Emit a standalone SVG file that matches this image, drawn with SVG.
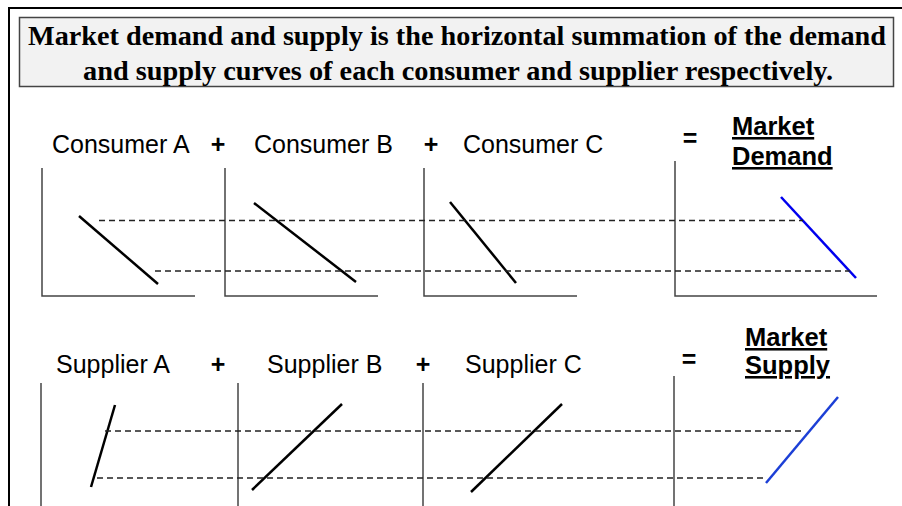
<svg xmlns="http://www.w3.org/2000/svg" width="902" height="506" viewBox="0 0 902 506">
<style>
.title{font-family:"Liberation Serif","Times New Roman",serif;font-weight:bold;font-size:28px;fill:#000}
.lbl{font-family:"Liberation Sans",Arial,sans-serif;font-size:25px;fill:#000}
.op{font-family:"Liberation Sans",Arial,sans-serif;font-size:25px;font-weight:bold;fill:#000}
.mkt{font-family:"Liberation Sans",Arial,sans-serif;font-size:25.5px;font-weight:bold;fill:#000;text-decoration:underline}
.axis{stroke:#444;stroke-width:1.5;fill:none}
.curve{stroke:#000;stroke-width:2.5;fill:none;stroke-linecap:butt}
.mdem{stroke:#0000ee;stroke-width:2.5;fill:none}
.msup{stroke:#1c3fd6;stroke-width:2.5;fill:none}
.dash{stroke:#222;stroke-width:1.3;stroke-dasharray:6 4;fill:none}
</style>
<rect width="902" height="506" fill="#fff"/>
<rect id="frame" x="9" y="8" width="905" height="510" fill="none" stroke="#000" stroke-width="2"/>
<g id="title">
<rect x="19.5" y="17.5" width="874" height="69" fill="#f2f2f2" stroke="#444" stroke-width="1.5"/>
<text class="title" x="28" y="45" textLength="858" lengthAdjust="spacingAndGlyphs">Market demand  and supply is the horizontal summation of the demand</text>
<text class="title" x="83" y="80" textLength="750" lengthAdjust="spacingAndGlyphs">and supply curves of each consumer and supplier respectively.</text>
</g>
<g id="consumerA">
<text class="lbl" x="52" y="153">Consumer A</text>
<path class="axis" d="M42 168V296H195"/>
<line class="curve" x1="79" y1="216" x2="158" y2="284"/>
</g>
<text class="op" x="218" y="153" text-anchor="middle">+</text>
<g id="consumerB">
<text class="lbl" x="254" y="153">Consumer B</text>
<path class="axis" d="M225 168V296H378"/>
<line class="curve" x1="254" y1="203" x2="356" y2="282"/>
</g>
<text class="op" x="431" y="153" text-anchor="middle">+</text>
<g id="consumerC">
<text class="lbl" x="463" y="153">Consumer C</text>
<path class="axis" d="M424 168V296H577"/>
<line class="curve" x1="450" y1="202" x2="516" y2="283"/>
</g>
<text class="op" x="690" y="147" text-anchor="middle">=</text>
<g id="marketDemand">
<text class="mkt" x="732" y="135">Market</text>
<text class="mkt" x="732" y="165">Demand</text>
<path class="axis" d="M675 161V296H877"/>
<line class="mdem" x1="781" y1="197" x2="856" y2="278"/>
</g>
<g id="supplierA">
<text class="lbl" x="56" y="373">Supplier A</text>
<path class="axis" d="M41 383V506"/>
<line class="curve" x1="115" y1="405" x2="91" y2="487"/>
</g>
<text class="op" x="218" y="373" text-anchor="middle">+</text>
<g id="supplierB">
<text class="lbl" x="267" y="373">Supplier B</text>
<path class="axis" d="M238 383V506"/>
<line class="curve" x1="342" y1="404" x2="252" y2="490"/>
</g>
<text class="op" x="423" y="373" text-anchor="middle">+</text>
<g id="supplierC">
<text class="lbl" x="465" y="373">Supplier C</text>
<path class="axis" d="M423 383V506"/>
<line class="curve" x1="562" y1="404" x2="471" y2="492"/>
</g>
<text class="op" x="689" y="368" text-anchor="middle">=</text>
<g id="marketSupply">
<text class="mkt" x="745" y="346">Market</text>
<text class="mkt" x="745" y="374">Supply</text>
<path class="axis" d="M674 376V506"/>
<line class="msup" x1="838" y1="397" x2="766" y2="483"/>
</g>
<g id="connectors">
<line class="dash" x1="99" y1="220.5" x2="803" y2="220.5"/>
<line class="dash" x1="155" y1="271" x2="850" y2="271"/>
<line class="dash" x1="105" y1="431" x2="804" y2="431"/>
<line class="dash" x1="97" y1="478" x2="767" y2="478"/>
</g>
</svg>
